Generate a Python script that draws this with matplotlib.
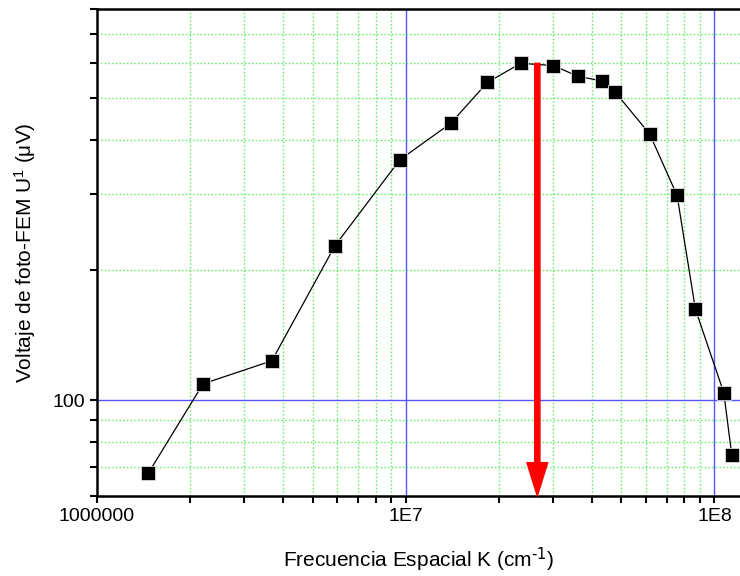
import matplotlib
matplotlib.use("Agg")
import matplotlib.pyplot as plt
from matplotlib.ticker import LogLocator, FixedLocator, NullFormatter, FixedFormatter

plt.rcParams['font.family'] = ['Liberation Sans', 'DejaVu Sans']
plt.rcParams['mathtext.default'] = 'regular'

# Datos
frecuencia = [1.47e6, 2.21e6, 3.69e6, 5.9e6, 9.58e6, 1.40e7, 1.84e7, 2.36e7,
              3.01e7, 3.61e7, 4.34e7, 4.78e7, 6.17e7, 7.57e7, 8.68e7, 1.072e8, 1.138e8]
voltaje = [67.8, 109.0, 123.2, 227, 359, 436, 542, 600,
           593, 560, 546, 514, 412, 297, 162, 104, 74.7]

k_pico = 2.67e7      # posicion de la flecha roja
v_pico = 600

fig = plt.figure(figsize=(7.4, 5.76), dpi=100)
ax = fig.add_axes([0.1307, 0.1389, 0.8693, 0.845])

ax.set_xscale('log')
ax.set_yscale('log')
ax.set_xlim(1e6, 1.21e8)
ax.set_ylim(60, 800)

# Rejilla: mayor azul, menor verde punteada
ax.xaxis.set_major_locator(FixedLocator([1e6, 1e7, 1e8]))
ax.xaxis.set_major_formatter(FixedFormatter(['1000000', '1E7', '1E8']))
ax.xaxis.set_minor_locator(LogLocator(base=10, subs=range(2, 10)))
ax.xaxis.set_minor_formatter(NullFormatter())
ax.yaxis.set_major_locator(FixedLocator([100]))
ax.yaxis.set_major_formatter(FixedFormatter(['100']))
ax.yaxis.set_minor_locator(LogLocator(base=10, subs=range(2, 10)))
ax.yaxis.set_minor_formatter(NullFormatter())

ax.grid(True, which='minor', color='#55ee55', linestyle=':', linewidth=1.0)
ax.grid(True, which='major', color='#5555ff', linestyle='-', linewidth=1.0)
ax.xaxis.get_gridlines()[0].set_visible(False)
ax.set_axisbelow(True)

ax.plot(frecuencia, voltaje, color='black', linewidth=0.9, marker='s',
        markersize=9.5, markerfacecolor='black', markeredgecolor='#dddddd',
        markeredgewidth=0.6, zorder=3)

# Flecha roja en el maximo
ax.annotate('', xy=(k_pico, 60), xytext=(k_pico, v_pico),
            arrowprops=dict(width=3.8, headwidth=15, headlength=24,
                            facecolor='red', edgecolor='red', shrink=0),
            zorder=4)

for side in ['left', 'bottom', 'top']:
    ax.spines[side].set_linewidth(1.8)
ax.spines['right'].set_visible(False)

ax.tick_params(which='both', direction='out', width=1.5, length=5,
               labelsize=14, top=False, right=False)

ax.set_xlabel('Frecuencia Espacial K (cm$^{\\text{-1}}$)', fontsize=15, labelpad=15)
ax.set_ylabel('Voltaje de foto-FEM U$^{1}$ (μV)', fontsize=15, labelpad=10)

fig.savefig('out.png', dpi=100)
